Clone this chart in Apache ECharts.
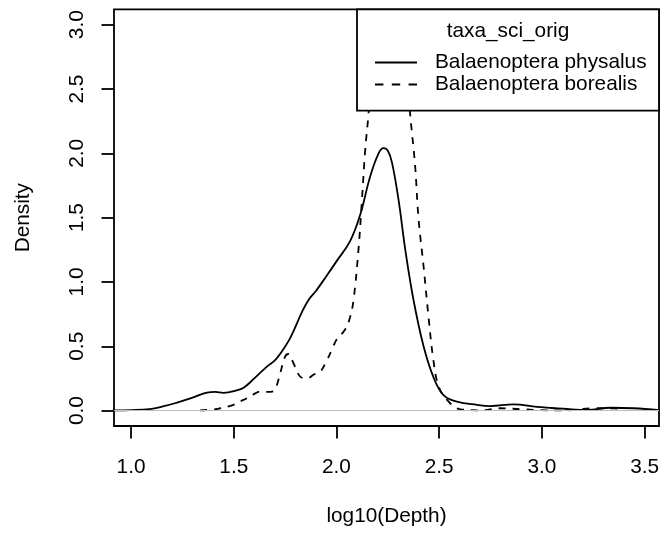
<!DOCTYPE html>
<html>
<head>
<meta charset="utf-8">
<script src="https://cdn.jsdelivr.net/npm/echarts@6/dist/echarts.min.js"></script>
<style>
  html, body { margin: 0; padding: 0; background: #fff; }
  #chart { width: 671px; height: 535px; }
</style>
</head>
<body>
<div id="chart"></div>
<script>
// tick marks
var xTicks = [1.0, 1.5, 2.0, 2.5, 3.0, 3.5];
var yTicks = [0, 0.5, 1.0, 1.5, 2.0, 2.5, 3.0];

// Balaenoptera physalus (solid)
var physX = [0.917, 1.0, 1.09, 1.15, 1.22, 1.30, 1.37, 1.41, 1.45, 1.51, 1.55, 1.60, 1.66, 1.70, 1.734, 1.77, 1.80, 1.83, 1.864, 1.90, 1.953, 2.0, 2.067, 2.115, 2.164, 2.205, 2.229, 2.25, 2.27, 2.302, 2.335, 2.375, 2.424, 2.472, 2.521, 2.586, 2.684, 2.749, 2.862, 2.976, 3.05, 3.122, 3.22, 3.333, 3.447, 3.57];
var physY = [0.002, 0.004, 0.012, 0.03, 0.06, 0.10, 0.14, 0.145, 0.138, 0.155, 0.18, 0.25, 0.34, 0.39, 0.46, 0.55, 0.65, 0.76, 0.86, 0.93, 1.05, 1.16, 1.32, 1.52, 1.82, 2.0, 2.04, 2.02, 1.93, 1.64, 1.25, 0.86, 0.50, 0.26, 0.12, 0.07, 0.044, 0.035, 0.048, 0.028, 0.02, 0.012, 0.006, 0.022, 0.018, 0.004];

// Balaenoptera borealis (dashed)
var boreX = [1.336, 1.40, 1.433, 1.498, 1.53, 1.564, 1.60, 1.628, 1.66, 1.693, 1.71, 1.726, 1.75, 1.766, 1.79, 1.823, 1.856, 1.89, 1.92, 1.953, 1.985, 2.0, 2.042, 2.065, 2.083, 2.107, 2.124, 2.14, 2.156, 2.18, 2.22, 2.26, 2.30, 2.34, 2.359, 2.383, 2.399, 2.424, 2.448, 2.472, 2.497, 2.538, 2.603, 2.70, 2.797, 2.895, 3.025, 3.12, 3.25, 3.35, 3.39];
var boreY = [0.002, 0.008, 0.018, 0.044, 0.07, 0.096, 0.13, 0.148, 0.145, 0.15, 0.2, 0.29, 0.42, 0.44, 0.37, 0.265, 0.25, 0.28, 0.30, 0.39, 0.5, 0.55, 0.63, 0.72, 0.86, 1.25, 1.64, 2.03, 2.31, 2.9, 3.4, 3.5, 3.3, 2.7, 2.3, 1.9, 1.5, 1.12, 0.73, 0.39, 0.19, 0.083, 0.01, 0.002, 0.018, 0.011, 0.002, 0.001, 0.018, 0.018, 0.005];

var seriesNames = ['Balaenoptera physalus', 'Balaenoptera borealis'];
var legendTitle = 'taxa_sci_orig';

function pairs(xs, ys) {
    return xs.map(function (x, i) { return [x, ys[i]]; });
}

var font = "'Liberation Sans', Arial, sans-serif";
var fs = 20.8;

// legend line samples (solid / dashed)
var solidIcon = 'path://M0,0H42V1.8H0Z';
var dashIcon = 'path://M0,0H8V1.8H0Z M16,0H24V1.8H16Z M32,0H40V1.8H32Z';

var chart = echarts.init(document.getElementById('chart'));

var option = {
    animation: false,
    backgroundColor: '#fff',
    textStyle: { fontFamily: font },
    grid: {
        left: 114, right: 12, top: 9.3, bottom: 109,
        show: true, borderColor: '#000', borderWidth: 1.8,
        containLabel: false, outerBoundsMode: 'none'
    },
    xAxis: {
        type: 'value',
        min: 0.917, max: 3.57,
        axisLine: { show: false, onZero: false },
        axisTick: { show: true, customValues: xTicks, length: 12.5, lineStyle: { color: '#000', width: 1.8 } },
        axisLabel: {
            customValues: xTicks, margin: 31, color: '#000', fontSize: fs, fontFamily: font,
            formatter: function (v) { return v.toFixed(1); }
        },
        splitLine: { show: false },
        name: 'log10(Depth)', nameLocation: 'middle', nameGap: 80,
        nameTextStyle: { color: '#000', fontSize: fs, fontFamily: font }
    },
    yAxis: {
        type: 'value',
        min: -0.12, max: 3.12,
        axisLine: { show: false, onZero: false },
        axisTick: { show: true, customValues: yTicks, length: 12.5, lineStyle: { color: '#000', width: 1.8 } },
        axisLabel: {
            customValues: yTicks, rotate: 90, margin: 26, color: '#000', fontSize: fs, fontFamily: font,
            formatter: function (v) { return v.toFixed(1); }
        },
        splitLine: { show: false },
        name: 'Density', nameLocation: 'middle', nameGap: 80, nameRotate: 90,
        nameTextStyle: { color: '#000', fontSize: fs, fontFamily: font }
    },
    legend: {
        data: [
            { name: seriesNames[0], icon: solidIcon },
            { name: seriesNames[1], icon: dashIcon }
        ],
        orient: 'vertical',
        left: 375, top: 52,
        padding: 0,
        itemWidth: 42, itemHeight: 14, itemGap: 1,
        z: 10,
        itemStyle: { color: '#000', borderWidth: 0 },
        textStyle: { color: '#000', fontSize: fs, fontFamily: font, padding: [0, 0, 0, 13] }
    },
    graphic: [
        {
            type: 'rect', z: 5,
            shape: { x: 357, y: 9.3, width: 302, height: 101.4 },
            style: { fill: '#fff', stroke: '#000', lineWidth: 1.8 }
        },
        {
            type: 'text', z: 11,
            x: 508, y: 31,
            style: { text: legendTitle, fill: '#000', font: fs + 'px ' + font, textAlign: 'center', textVerticalAlign: 'middle' }
        }
    ],
    series: [
        {
            name: seriesNames[0],
            type: 'line',
            data: pairs(physX, physY),
            symbol: 'none',
            smooth: 0.4,
            lineStyle: { color: '#000', width: 1.8, type: 'solid' },
            itemStyle: { color: '#000' },
            markLine: {
                silent: true,
                symbol: ['none', 'none'],
                label: { show: false },
                lineStyle: { color: '#bebebe', type: 'solid', width: 1.2 },
                data: [{ yAxis: 0 }]
            }
        },
        {
            name: seriesNames[1],
            type: 'line',
            data: pairs(boreX, boreY),
            symbol: 'none',
            smooth: 0.4,
            lineStyle: { color: '#000', width: 1.8, type: [7, 7] },
            itemStyle: { color: '#000' }
        }
    ]
};

chart.setOption(option);
</script>
</body>
</html>
